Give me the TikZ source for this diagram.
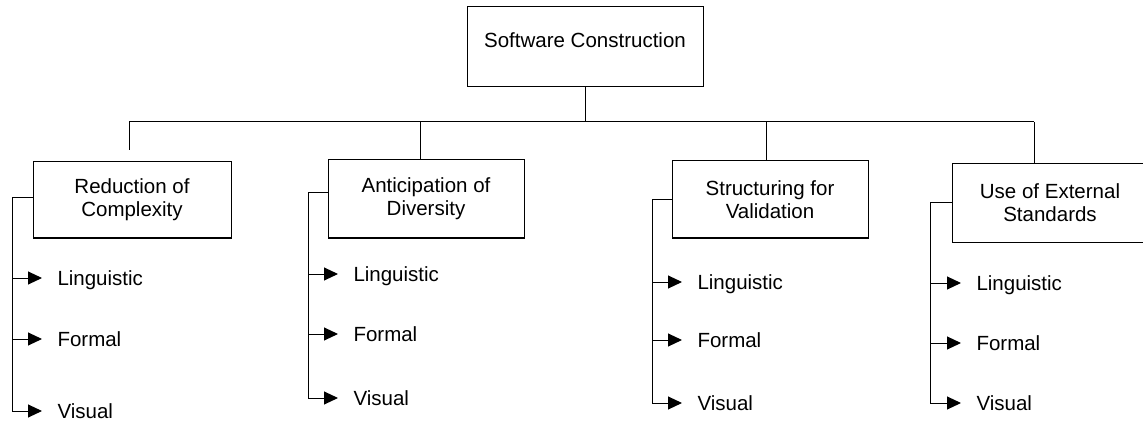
\documentclass[tikz,border=0pt]{standalone}
\usepackage{fontspec}
\setmainfont{Liberation Sans}
\usetikzlibrary{arrows.meta}

\begin{document}
\begin{tikzpicture}[x=1pt,y=-1pt,line width=1pt,
                    top node/.style={draw,rectangle,minimum width=236pt,minimum height=80pt,inner sep=0pt,
                                     font=\fontsize{20.5}{23}\selectfont,text height=15pt,text depth=13pt},
                    main node/.style={draw,rectangle,minimum width=196pt,minimum height=77pt,inner sep=0pt,
                                      align=center,font=\fontsize{20.5}{23}\selectfont},
                    item/.style={anchor=west,inner xsep=15pt,inner ysep=0pt,text height=14.7pt,text depth=0pt,
                                 font=\fontsize{20.5}{23}\selectfont},
                    arrow/.style={-{Triangle[length=14pt,width=13pt]}}
                   ]
  \useasboundingbox (0,0) rectangle (1143,422);
  % top
  \node[top node] (sc) at (585,47) {Software Construction};
  % the four areas
  \node[main node,minimum width=198pt,minimum height=76pt] (roc) at (132,200) {Reduction of\\Complexity};
  \node[main node,minimum height=78pt] (aod) at (426,199) {Anticipation of\\Diversity};
  \node[main node] (sfv) at (770,199.5) {Structuring for\\Validation};
  \node[main node,minimum height=78pt] (ues) at (1050,203) {Use of External\\Standards};
  % bus
  \coordinate (j1) at (129,122);
  \coordinate (j2) at (420,122);
  \coordinate (j3) at (766,122);
  \coordinate (j4) at (1034,122);
  \draw (sc.south) -- (sc.south |- j1);
  \draw (j1) -- (j4);
  \draw (j1) -- (129,150);
  \draw (j2) -- (j2 |- aod.north);
  \draw (j3) -- (j3 |- sfv.north);
  \draw (j4) -- (j4 |- ues.north);
  % items
  \node[item] (lin1) at (42,278) {Linguistic};
  \node[item] (for1) at (42,339) {Formal};
  \node[item] (vis1) at (42,411) {Visual};
  \node[item] (lin2) at (338,274) {Linguistic};
  \node[item] (for2) at (338,334) {Formal};
  \node[item] (vis2) at (338,398) {Visual};
  \node[item] (lin3) at (682,282) {Linguistic};
  \node[item] (for3) at (682,340) {Formal};
  \node[item] (vis3) at (682,403) {Visual};
  \node[item] (lin4) at (961,283) {Linguistic};
  \node[item] (for4) at (961,343) {Formal};
  \node[item] (vis4) at (961,403) {Visual};
  % side lines
  \coordinate (c1) at (12,198);
  \coordinate (c2) at (308,193);
  \coordinate (c3) at (652,200);
  \coordinate (c4) at (930,203);
  \draw[arrow] (c1 -| roc.west) -- (c1) -- (c1 |- vis1) -- (vis1);
  \draw[arrow] (c2 -| aod.west) -- (c2) -- (c2 |- vis2) -- (vis2);
  \draw[arrow] (c3 -| sfv.west) -- (c3) -- (c3 |- vis3) -- (vis3);
  \draw[arrow] (c4 -| ues.west) -- (c4) -- (c4 |- vis4) -- (vis4);
  \path%
   (c1 |- lin1) edge [arrow] (lin1)
   (c1 |- for1) edge [arrow] (for1)
   (c2 |- lin2) edge [arrow] (lin2)
   (c2 |- for2) edge [arrow] (for2)
   (c3 |- lin3) edge [arrow] (lin3)
   (c3 |- for3) edge [arrow] (for3)
   (c4 |- lin4) edge [arrow] (lin4)
   (c4 |- for4) edge [arrow] (for4);
\end{tikzpicture}
\end{document}
